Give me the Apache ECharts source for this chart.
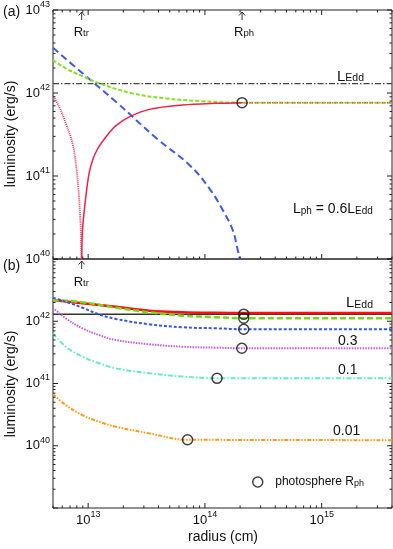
<!DOCTYPE html>
<html>
<head>
<meta charset="utf-8">
<script src="https://cdn.jsdelivr.net/npm/echarts/dist/echarts.min.js"></script>
<style>
  html, body { margin: 0; padding: 0; background: #fff; }
  #main { width: 393px; height: 549px; }
</style>
</head>
<body>
<div id="main"></div>
<script>
// axis extents (radius in cm, luminosity in erg/s)
const R_MIN = 5e12, R_MAX = 4e15;
const L_TOP = [1e40, 1e43];
const L_BOT = [1e39, 1e43];
const L_EDD = 1.3e42;
const R_TR = 8.8e12, R_PH = 2.08e14;

// panel (a): L_ph = 0.6 L_Edd
const topGreen = [[5e12, 2.5e42], [6.44e12, 1.98e42], [8.94e12, 1.6e42], [1.24e13, 1.31e42], [2.4e13, 9.9e41],
  [4.65e13, 8.6e41], [9e13, 8.0e41], [2.08e14, 7.65e41], [4e15, 7.65e41]];
const topBlue = [[5e12, 3.5e42], [8.94e12, 1.73e42], [1.73e13, 7.85e41], [3.91e13, 2.79e41], [7.36e13, 1.36e41],
  [1.09e14, 7.1e40], [1.42e14, 3.9e40], [1.73e14, 2.23e40], [1.91e14, 1.28e40], [1.98e14, 1.03e40], [2.0e14, 8e39]];
const topRed = [[8.8e12, 8e39], [8.94e12, 2.23e40], [9.55e12, 5.6e40], [1.02e13, 1.09e41], [1.1e13, 1.6e41],
  [1.2e13, 2.1e41], [1.3e13, 2.5e41], [1.51e13, 3.3e41], [1.73e13, 4.05e41], [2.25e13, 5.15e41],
  [3.34e13, 6.35e41], [6.44e13, 7.15e41], [1.25e14, 7.5e41], [2.08e14, 7.65e41]];
const topRedNeg = [[4.96e12, 9.5e41], [5.64e12, 6.85e41], [6.44e12, 4.3e41], [7.33e12, 2.5e41], [7.84e12, 1.42e41],
  [8.26e12, 6.8e40], [8.54e12, 3.25e40], [8.71e12, 1.55e40], [8.8e12, 5e39]];
const topRedOut = [[2.08e14, 7.65e41], [4e15, 7.65e41]];
const topPhot = [[2.08e14, 7.65e41]];

// panel (b): several L_ph / L_Edd
const botRed = [[5e12, 2.19e42], [8.94e12, 1.94e42], [1.73e13, 1.71e42], [3.34e13, 1.48e42], [6.44e13, 1.4e42],
  [1.25e14, 1.37e42], [2.1e14, 1.36e42], [4e15, 1.36e42]];
const botGreen = [[5e12, 2.2e42], [8.94e12, 2.02e42], [1.73e13, 1.65e42], [3.34e13, 1.39e42], [6.44e13, 1.23e42],
  [1.25e14, 1.16e42], [2.1e14, 1.12e42], [4e15, 1.12e42]];
const botBlue = [[5e12, 2.39e42], [6.44e12, 2.06e42], [8.94e12, 1.65e42], [1.24e13, 1.29e42], [1.73e13, 1.09e42],
  [3.34e13, 8.93e41], [6.44e13, 8.0e41], [1.25e14, 7.7e41], [2.1e14, 7.45e41], [4e15, 7.45e41]];
const botPurple = [[5e12, 1.65e42], [6.44e12, 1.11e42], [8.94e12, 7.7e41], [1.24e13, 6.0e41], [1.73e13, 5.0e41],
  [3.34e13, 4.27e41], [6.44e13, 3.9e41], [1.25e14, 3.76e41], [2.07e14, 3.68e41], [4e15, 3.68e41]];
const botCyan = [[5e12, 6.4e41], [6.44e12, 3.9e41], [8.94e12, 2.7e41], [1.24e13, 2.11e41], [1.73e13, 1.75e41],
  [3.34e13, 1.46e41], [6.44e13, 1.29e41], [1.27e14, 1.21e41], [4e15, 1.21e41]];
const botOrange = [[5e12, 6.8e40], [6.44e12, 4.5e40], [8.94e12, 3.1e40], [1.24e13, 2.43e40], [1.73e13, 2.02e40],
  [3.34e13, 1.58e40], [7.1e13, 1.25e40], [4e15, 1.23e40]];
const botPhot = [[2.15e14, 1.3e42], [2.15e14, 1.12e42], [2.15e14, 7.45e41], [2.07e14, 3.68e41],
  [1.27e14, 1.21e41], [7.1e13, 1.25e40]];
const ratioLabels = ['0.3', '0.1', '0.01'];

const FONT = 'Liberation Sans, Arial, Helvetica, sans-serif';

function isDecade(v) {
  const e = Math.log10(v);
  return Math.abs(e - Math.round(e)) < 1e-6;
}

function logTicks(lo, hi) {
  const out = [];
  for (let k = Math.floor(Math.log10(lo)); k <= Math.ceil(Math.log10(hi)); k++) {
    for (let d = 1; d < 10; d++) {
      const v = d * Math.pow(10, k);
      if (v >= lo * 0.999 && v <= hi * 1.001) out.push(v);
    }
  }
  return out;
}

function powLabel(skip) {
  return function (v) {
    if (!isDecade(v)) return '';
    const n = Math.round(Math.log10(v));
    if (skip.indexOf(n) >= 0) return '';
    return '{b|10}{s|' + n + '}';
  };
}

const labelRich = {
  b: { fontSize: 13, lineHeight: 20, verticalAlign: 'middle', fontFamily: FONT, color: '#111' },
  s: { fontSize: 9, lineHeight: 10, verticalAlign: 'top', fontFamily: FONT, color: '#111' }
};

// inward pointing tick marks drawn through the axis scales
function tickSeries(gi, axis, values, lo, hi, ends) {
  return {
    type: 'custom', xAxisIndex: gi, yAxisIndex: gi, silent: true, z: 5,
    data: values.map(v => axis === 'x' ? [v, lo] : [lo, v]),
    encode: { x: 0, y: 1 },
    renderItem: function (params, api) {
      const v = api.value(axis === 'x' ? 0 : 1);
      const len = isDecade(v) ? 5 : 2.5;
      const a = api.coord(axis === 'x' ? [v, lo] : [lo, v]);
      const b = api.coord(axis === 'x' ? [v, hi] : [hi, v]);
      const st = { stroke: '#222', lineWidth: 1 };
      const kids = [];
      if (axis === 'x') {
        if (ends.indexOf('low') >= 0) kids.push({ type: 'line', shape: { x1: a[0], y1: a[1], x2: a[0], y2: a[1] - len }, style: st });
        if (ends.indexOf('high') >= 0) kids.push({ type: 'line', shape: { x1: b[0], y1: b[1], x2: b[0], y2: b[1] + len }, style: st });
      } else {
        kids.push({ type: 'line', shape: { x1: a[0], y1: a[1], x2: a[0] + len, y2: a[1] }, style: st });
        kids.push({ type: 'line', shape: { x1: b[0], y1: b[1], x2: b[0] - len, y2: b[1] }, style: st });
      }
      return { type: 'group', children: kids };
    }
  };
}

function curve(name, gi, data, color, width, type, smooth) {
  return {
    name: name, type: 'line', xAxisIndex: gi, yAxisIndex: gi, data: data,
    showSymbol: false, symbol: 'none', silent: true,
    smooth: smooth === undefined ? 0.4 : smooth,
    lineStyle: { color: color, width: width, type: type }, itemStyle: { color: color }
  };
}

function phot(name, gi, data) {
  return {
    name: name, type: 'scatter', xAxisIndex: gi, yAxisIndex: gi, data: data, z: 6,
    symbol: 'circle', symbolSize: 10, silent: true,
    itemStyle: { color: 'rgba(0,0,0,0)', borderColor: '#111', borderWidth: 1.5 }
  };
}

const chart = echarts.init(document.getElementById('main'));

const gridBase = { left: 53, width: 339, height: 249, show: true, borderColor: '#222', borderWidth: 1,
  backgroundColor: 'transparent', outerBoundsMode: 'none', containLabel: false };

const xBase = { type: 'log', min: R_MIN, max: R_MAX, axisLine: { show: false }, axisTick: { show: false },
  splitLine: { show: false }, minorTick: { show: false } };
const yBase = { type: 'log', axisLine: { show: false }, axisTick: { show: false },
  splitLine: { show: false }, minorTick: { show: false } };

const option = {
  animation: false,
  textStyle: { fontFamily: FONT },
  grid: [Object.assign({ top: 10 }, gridBase), Object.assign({ top: 259 }, gridBase)],
  xAxis: [
    Object.assign({ gridIndex: 0, axisLabel: { show: false } }, xBase),
    Object.assign({ gridIndex: 1, axisLabel: { formatter: powLabel([]), rich: labelRich, margin: 2, showMinLabel: true, showMaxLabel: true } }, xBase)
  ],
  yAxis: [
    Object.assign({ gridIndex: 0, min: L_TOP[0], max: L_TOP[1],
      axisLabel: { formatter: powLabel([]), rich: labelRich, margin: 3 } }, yBase),
    Object.assign({ gridIndex: 1, min: L_BOT[0], max: L_BOT[1],
      axisLabel: { formatter: powLabel([39, 43]), rich: labelRich, margin: 3 } }, yBase)
  ],
  legend: {
    data: [{ name: 'photosphere', icon: 'circle' }],
    left: 247, top: 471, itemWidth: 25, itemHeight: 10, symbolKeepAspect: true,
    itemStyle: { color: 'rgba(0,0,0,0)', borderColor: '#111', borderWidth: 1.5 },
    formatter: () => '{a|photosphere R}{p|ph}',
    textStyle: {
      rich: {
        a: { fontSize: 12, lineHeight: 12, verticalAlign: 'bottom', fontFamily: FONT, color: '#111' },
        p: { fontSize: 9, lineHeight: 10, verticalAlign: 'bottom', fontFamily: FONT, color: '#111' }
      }
    }
  },
  series: [
    curve('LEdd a', 0, [[R_MIN, L_EDD], [R_MAX, L_EDD]], '#444', 1.2, [6, 2, 1.5, 2], false),
    curve('blue a', 0, topBlue, '#3B5BEF', 2, [7, 4]),
    curve('green a', 0, topGreen, '#86E21E', 2, [4, 2]),
    curve('red a', 0, topRed, '#EE2248', 1.5, 'solid', 0.3),
    curve('red neg a', 0, topRedNeg, '#EE3355', 1.8, [1, 1]),
    curve('red out a', 0, topRedOut, '#EE3355', 1.5, [1, 1.5], false),
    phot('photosphere a', 0, topPhot),

    curve('LEdd b', 1, [[R_MIN, L_EDD], [R_MAX, L_EDD]], '#333', 1.5, 'solid', false),
    curve('red b', 1, botRed, '#FF1010', 2.5, 'solid'),
    curve('green b', 1, botGreen, '#6FDD10', 2.5, [6, 3]),
    curve('blue b', 1, botBlue, '#3355EE', 2, [3, 2]),
    curve('purple b', 1, botPurple, '#C858EE', 2, [1.5, 1.2]),
    curve('cyan b', 1, botCyan, '#5EEFC8', 2, [5, 2, 1.5, 2]),
    curve('orange b', 1, botOrange, '#FF9A12', 2, [4, 1.5, 1.5, 1.5, 1.5, 1.5]),
    phot('photosphere', 1, botPhot),

    tickSeries(0, 'x', logTicks(R_MIN, R_MAX), L_TOP[0], L_TOP[1], ['low', 'high']),
    tickSeries(1, 'x', logTicks(R_MIN, R_MAX), L_BOT[0], L_BOT[1], ['low']),
    tickSeries(0, 'y', logTicks(L_TOP[0], L_TOP[1]), R_MIN, R_MAX),
    tickSeries(1, 'y', logTicks(L_BOT[0], L_BOT[1]), R_MIN, R_MAX)
  ]
};

chart.setOption(option);

// annotations
function txt(x, y, rich, parts, align, rot) {
  return {
    type: 'text', x: x, y: y, rotation: rot || 0, z: 10, silent: true,
    style: { text: parts, rich: rich, align: align || 'left', verticalAlign: 'middle', fill: '#111', font: '14px ' + FONT }
  };
}
function sub(big, small) {
  return {
    l: { fontSize: big, lineHeight: big, verticalAlign: 'bottom', fontFamily: FONT, color: '#111' },
    s: { fontSize: small, lineHeight: small + 1, verticalAlign: 'bottom', fontFamily: FONT, color: '#111' },
    n: { fontSize: big, lineHeight: big, verticalAlign: 'bottom', fontFamily: FONT, color: '#111' }
  };
}
function arrow(x, top) {
  const st = { stroke: '#333', lineWidth: 1 };
  return {
    type: 'group', z: 10, silent: true, children: [
      { type: 'line', shape: { x1: x, y1: top + 2, x2: x, y2: top + 10 }, style: st },
      { type: 'polyline', shape: { points: [[x - 3, top + 5.5], [x, top + 2], [x + 3, top + 5.5]] }, style: st }
    ]
  };
}

const pTrA = chart.convertToPixel({ gridIndex: 0 }, [R_TR, L_TOP[1]]);
const pPhA = chart.convertToPixel({ gridIndex: 0 }, [R_PH, L_TOP[1]]);
const pTrB = chart.convertToPixel({ gridIndex: 1 }, [R_TR, L_BOT[1]]);
const pEddA = chart.convertToPixel({ gridIndex: 0 }, [R_MAX, L_EDD]);
const pEddB = chart.convertToPixel({ gridIndex: 1 }, [R_MAX, L_EDD]);
const pR3 = chart.convertToPixel({ gridIndex: 1 }, [R_MAX, botPurple[botPurple.length - 1][1]]);
const pR1 = chart.convertToPixel({ gridIndex: 1 }, [R_MAX, botCyan[botCyan.length - 1][1]]);
const pR01 = chart.convertToPixel({ gridIndex: 1 }, [R_MAX, botOrange[botOrange.length - 1][1]]);

chart.setOption({
  graphic: [
    txt(3, 12, null, '(a)', 'left'),
    txt(3, 266, null, '(b)', 'left'),
    arrow(pTrA[0], pTrA[1]),
    arrow(pPhA[0], pPhA[1]),
    arrow(pTrB[0], pTrB[1]),
    txt(pTrA[0] - 8, pTrA[1] + 22, sub(13, 9.5), '{l|R}{s|tr}'),
    txt(pPhA[0] - 8, pPhA[1] + 22, sub(13, 9.5), '{l|R}{s|ph}'),
    txt(pTrB[0] - 8, pTrB[1] + 23, sub(13, 9.5), '{l|R}{s|tr}'),
    txt(337, pEddA[1] - 7, sub(15, 10.5), '{l|L}{s|Edd}'),
    txt(346, pEddB[1] - 11, sub(15, 10.5), '{l|L}{s|Edd}'),
    txt(293, 209, sub(14, 10), '{l|L}{s|ph}{n| = 0.6L}{s|Edd}'),
    txt(338, pR3[1] - 7, null, ratioLabels[0]),
    txt(338, pR1[1] - 8, null, ratioLabels[1]),
    txt(333, pR01[1] - 9, null, ratioLabels[2]),
    txt(11, 134, null, 'luminosity (erg/s)', 'center', Math.PI / 2),
    txt(11, 384, null, 'luminosity (erg/s)', 'center', Math.PI / 2),
    txt(223, 537, null, 'radius (cm)', 'center')
  ]
});
</script>
</body>
</html>
